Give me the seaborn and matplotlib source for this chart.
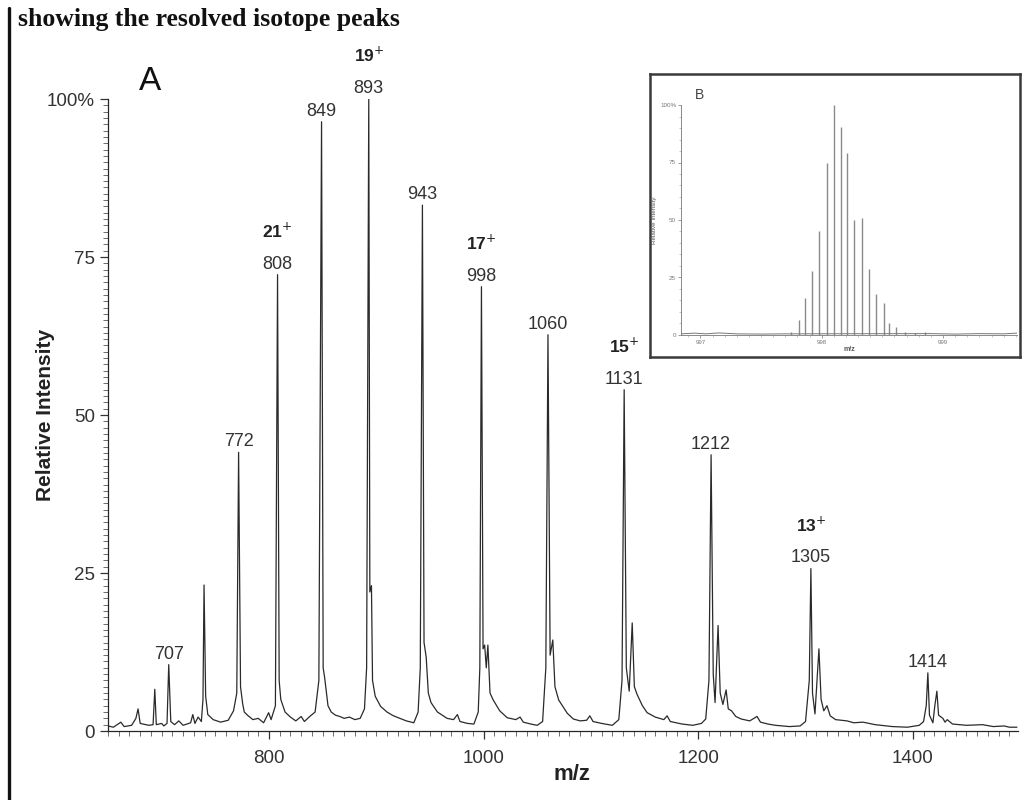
import numpy as np
import matplotlib
matplotlib.use('Agg')
import matplotlib.pyplot as plt
import seaborn as sns
from matplotlib.lines import Line2D
from matplotlib.ticker import MultipleLocator, FixedLocator

# ---- spectrum A: vertices (m/z, relative intensity %) ----
spec_mz = [650, 655, 662, 665, 672, 676, 678, 680, 688, 692, 693.6, 695, 700, 702, 705,
           706.6, 708.5, 712, 716, 720, 727, 729, 731, 734, 737, 738.5, 739.5, 741, 743,
           748, 755, 762, 767, 770, 771.7, 773.5, 775.5, 777, 780, 785, 790, 795, 799.7,
           802, 806, 808, 809.5, 811, 815, 820, 825, 830, 833, 838, 843, 846.5, 849, 850.5,
           852, 855, 858, 862, 866, 870, 875, 880, 885, 889, 891, 893, 894, 895.5, 896.5,
           899, 904, 910, 916, 922, 928, 935, 939, 941, 943, 944.5, 946.5, 948.5, 951, 957,
           966, 972, 975.6, 978, 985, 991, 995, 996.5, 998, 999.5, 1001, 1002.5, 1004, 1006,
           1009, 1015, 1022, 1030, 1034, 1037, 1044, 1050, 1055, 1058, 1060, 1062, 1064.5,
           1066.5, 1070, 1078, 1083.6, 1090, 1096, 1099, 1102, 1110, 1120, 1126, 1129, 1131,
           1133, 1135.7, 1138.5, 1140.5, 1143, 1148, 1152.4, 1160, 1168, 1171, 1174, 1185,
           1195, 1203, 1207, 1210, 1212, 1214, 1215.7, 1218.5, 1220.5, 1223, 1226, 1228,
           1231, 1235, 1240, 1248, 1254.8, 1258, 1265, 1272, 1285, 1295, 1300, 1303.5, 1305,
           1306.5, 1308.8, 1312.5, 1314.5, 1317, 1320, 1323, 1328, 1338.6, 1345, 1353.5,
           1365, 1381, 1395, 1406, 1410, 1412.5, 1414, 1415.5, 1418.7, 1420.5, 1422.4, 1424,
           1428, 1430, 1432, 1437, 1450, 1465, 1475, 1485, 1490, 1497]
spec_int = [0.8, 0.6, 1.4, 0.7, 0.9, 2.0, 3.5, 1.2, 0.9, 1.0, 6.6, 1.0, 1.2, 0.8, 1.2,
            10.5, 1.5, 1.0, 1.6, 0.9, 1.3, 2.6, 1.2, 2.2, 1.5, 5.0, 23.1, 5.5, 2.6,
            1.8, 1.4, 1.7, 3.2, 6.0, 44.1, 7.0, 4.3, 3.0, 2.5, 1.8, 2.0, 1.3, 2.9,
            1.8, 4.0, 72.2, 8.0, 5.0, 3.0, 2.2, 1.6, 2.3, 1.5, 2.3, 3.0, 8.0, 96.4, 10.0,
            8.3, 4.0, 3.0, 2.5, 2.3, 2.0, 2.2, 1.8, 2.0, 3.5, 10.0, 100.0, 22.0, 23.0, 8.0,
            5.5, 3.9, 3.0, 2.4, 2.0, 1.6, 1.3, 3.0, 10.0, 83.2, 14.0, 11.7, 6.0, 4.5, 3.0,
            2.0, 1.8, 2.6, 1.5, 1.2, 1.1, 3.0, 10.0, 70.3, 13.0, 13.6, 10.0, 13.6, 6.0,
            4.9, 3.2, 2.1, 1.8, 2.2, 1.4, 1.1, 0.9, 1.5, 10.0, 62.7, 12.0, 14.4,
            7.0, 4.9, 2.8, 1.9, 1.6, 1.7, 2.4, 1.5, 1.2, 0.9, 1.8, 8.0, 54.0,
            10.0, 6.3, 17.1, 7.0, 5.8, 4.0, 2.9, 2.2, 1.8, 2.4, 1.5, 1.1,
            0.9, 1.2, 1.9, 8.0, 43.7, 9.0, 4.5, 16.7, 6.0, 4.2, 6.5, 3.5,
            3.2, 2.3, 1.9, 1.6, 2.3, 1.4, 1.1, 0.9, 0.7, 0.8, 1.5, 8.0, 25.7,
            6.0, 2.7, 13.0, 5.0, 3.2, 4.0, 2.4, 1.8, 1.6, 1.3, 1.4,
            1.0, 0.7, 0.6, 0.9, 1.5, 4.0, 9.2, 2.5, 1.3, 4.0, 6.3, 2.5,
            2.0, 1.4, 1.8, 1.1, 0.9, 1.0, 0.7, 0.8, 0.6, 0.6]

# labelled peaks and charge states
peak_mz = [706.6, 771.7, 808, 849, 893, 943, 998, 1060, 1131, 1212, 1305, 1414]
peak_labels = ['707', '772', '808', '849', '893', '943', '998', '1060', '1131', '1212',
               '1305', '1414']
charge_mz = [808, 893, 998, 1131, 1305]
charge_labels = ['21', '19', '17', '15', '13']

main_xticks = [800, 1000, 1200, 1400]
main_yticks = [0, 25, 50, 75, 100]
main_yticklabels = ['0', '25', '50', '75', '100%']

# ---- inset B: resolved isotope cluster ----
iso_mz = [997.746, 997.812, 997.864, 997.916, 997.977, 998.040, 998.100, 998.161, 998.210,
          998.265, 998.333, 998.391, 998.451, 998.512, 998.558, 998.613, 998.684, 998.772,
          998.855]
iso_int = [1.4, 6.5, 16, 28, 45, 75, 100, 90.6, 79, 50, 51, 28.7, 18, 13.8, 5, 3.6, 1.4,
           0.7, 1.4]
base_mz = [996.84, 996.95, 997.05, 997.15, 997.3, 997.5, 997.7, 998.9, 999.1, 999.3, 999.5,
           999.61]
base_int = [0.5, 0.8, 0.5, 0.9, 0.5, 0.4, 0.5, 0.6, 0.4, 0.6, 0.5, 0.8]
inset_xticks = [997, 998, 999]
inset_xticklabels = ['997', '998', '999']

sns.set_theme(style='ticks')
plt.rcParams['font.family'] = ['Liberation Sans', 'DejaVu Sans']
plt.rcParams['axes.linewidth'] = 0.9

W, H = 1036, 800
fig = plt.figure(figsize=(W / 100, H / 100), dpi=100)
fig.patch.set_facecolor('white')

# page fragment: heading and the left border rule
fig.text(18 / W, 1 - 26 / H, 'showing the resolved isotope peaks', family='Liberation Serif',
         fontweight='bold', fontsize=18.5, color='#111', va='baseline', ha='left')
fig.add_artist(Line2D([9 / W, 9 / W], [0, 1 - 8 / H], transform=fig.transFigure,
                      color='#111', lw=2.4))

# main spectrum
ax = fig.add_axes([108 / W, 69 / H, 910 / W, 632 / H])
sns.lineplot(x=spec_mz, y=spec_int, ax=ax, color='#2a2a2a', linewidth=0.9,
             estimator=None, sort=False)
ax.set_xlim(650, 1498)
ax.set_ylim(0, 100)
sns.despine(ax=ax)
ax.xaxis.set_major_locator(FixedLocator(main_xticks))
ax.xaxis.set_minor_locator(MultipleLocator(10))
ax.yaxis.set_major_locator(FixedLocator(main_yticks))
ax.yaxis.set_minor_locator(MultipleLocator(1))
ax.set_yticklabels(main_yticklabels)
ax.tick_params(axis='both', which='major', length=6, width=0.9, color='#333',
               labelsize=13.5, labelcolor='#333')
ax.tick_params(axis='both', which='minor', length=3.5, width=0.6, color='#555')
ax.tick_params(axis='x', which='major', pad=8)
ax.set_xlabel('m/z', fontsize=16, fontweight='bold', color='#222')
ax.xaxis.set_label_coords(0.51, -0.052)
ax.set_ylabel('Relative Intensity', fontsize=15, fontweight='bold', color='#222')
ax.yaxis.set_label_coords(-0.058, 0.5)

for mz, lab in zip(peak_mz, peak_labels):
    h = np.interp(mz, spec_mz, spec_int)
    ax.annotate(lab, (mz, h), xytext=(0, 1.5), textcoords='offset points', ha='center',
                va='bottom', fontsize=13, color='#333', annotation_clip=False)
for mz, lab in zip(charge_mz, charge_labels):
    h = np.interp(mz, spec_mz, spec_int)
    ax.annotate(lab + r'$^{+}$', (mz, h), xytext=(0, 24.5), textcoords='offset points',
                ha='center', va='bottom', fontsize=12.5, fontweight='bold', color='#222',
                annotation_clip=False)

fig.text(150 / W, 1 - 82 / H, 'A', fontsize=24, ha='center', va='center', color='#111')

# inset frame
box = fig.add_axes([650 / W, 1 - 357 / H, 370 / W, 283 / H])
box.set_xticks([])
box.set_yticks([])
box.set_facecolor('white')
for s in box.spines.values():
    s.set_color('#3a3a3a')
    s.set_linewidth(1.8)

# inset spectrum
axi = fig.add_axes([681 / W, 1 - 335 / H, 336 / W, 230 / H])
axi.set_facecolor('none')
axi.vlines(iso_mz, 0, iso_int, color='#8a8a8a', lw=1.0)
sns.lineplot(x=base_mz, y=base_int, ax=axi, color='#777', linewidth=0.7,
             estimator=None, sort=False)
axi.set_xlim(996.84, 999.61)
axi.set_ylim(0, 100)
sns.despine(ax=axi)
for s in ('left', 'bottom'):
    axi.spines[s].set_color('#777')
    axi.spines[s].set_linewidth(0.6)
axi.xaxis.set_major_locator(FixedLocator(inset_xticks))
axi.set_xticklabels(inset_xticklabels)
axi.xaxis.set_minor_locator(MultipleLocator(0.1))
axi.yaxis.set_major_locator(FixedLocator(main_yticks))
axi.set_yticklabels(main_yticklabels)
axi.yaxis.set_minor_locator(MultipleLocator(5))
axi.tick_params(axis='both', which='major', length=2, width=0.5, color='#777',
                labelsize=4.5, labelcolor='#777', pad=1.5)
axi.tick_params(axis='both', which='minor', length=1.2, width=0.4, color='#999')
axi.set_xlabel('m/z', fontsize=5, fontweight='bold', color='#555', labelpad=0.5)
axi.set_ylabel('Relative Intensity', fontsize=4.5, color='#555', labelpad=2)
fig.text(700 / W, 1 - 95 / H, 'B', fontsize=10, ha='center', va='center', color='#444')

fig.savefig('out.png', dpi=100, facecolor='white')
